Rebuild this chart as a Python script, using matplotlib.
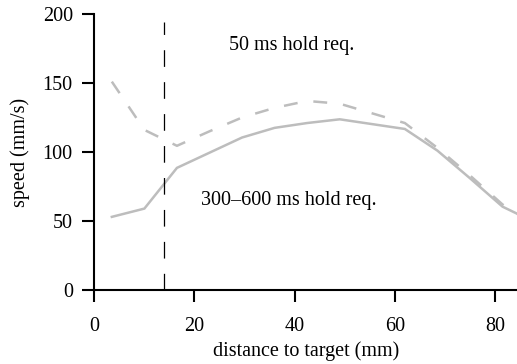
import numpy as np
import matplotlib
matplotlib.use("Agg")
import matplotlib.pyplot as plt
from matplotlib import rcParams

# Serif look for the whole figure
rcParams['font.family'] = 'Liberation Serif'
rcParams['font.size'] = 14.5
rcParams['lines.scale_dashes'] = False

# Mean speed against distance to target, two hold requirements
distance = [3.5, 10, 16.5, 23, 29.5, 36, 42.5, 49, 55.5, 62, 68.5, 75, 81.5, 88]
speed_long_hold = [53, 59, 88.5, 99.5, 110.5, 117.5, 121, 123.7, 120.2, 116.7, 101, 81, 60.4, 49]
speed_short_hold = [151, 116, 104.5, 115, 125, 132, 137, 135, 128, 121, 103, 83, 62, 47]
marker_distance = 14
marker_top = 194

fig = plt.figure(figsize=(5.17, 3.64), dpi=100)
ax = fig.add_axes([0.1824, 0.2033, 0.8176 + 0.002, 0.7582])

grey = '#bdbdbd'
ax.plot(distance, speed_long_hold, color=grey, lw=1.8, solid_joinstyle='miter')
ax.plot(distance, speed_short_hold, color=grey, lw=1.8, dashes=(10, 11.5))
ax.plot([marker_distance, marker_distance], [0, marker_top], color='black', lw=0.9,
        dashes=(12, 11))

ax.text(26.8, 177.5, '50 ms hold req.', va='center', ha='left')
ax.text(21.3, 65.2, '300\u2013600 ms hold req.', va='center', ha='left')

ax.set_xlim(0, 84.6)
ax.set_ylim(0, 200)
ax.set_xticks([0, 20, 40, 60, 80])
ax.set_yticks([0, 50, 100, 150, 200])
ax.set_xlabel('distance to target (mm)', labelpad=4)
ax.set_ylabel('speed (mm/s)', labelpad=9)

for side in ['top', 'right']:
    ax.spines[side].set_visible(False)
for side in ['left', 'bottom']:
    ax.spines[side].set_linewidth(1.5)
ax.tick_params(direction='out', length=8.5, width=1.5)
ax.tick_params(axis='x', pad=11)
ax.tick_params(axis='y', pad=7)

fig.savefig('out.png', dpi=100)
